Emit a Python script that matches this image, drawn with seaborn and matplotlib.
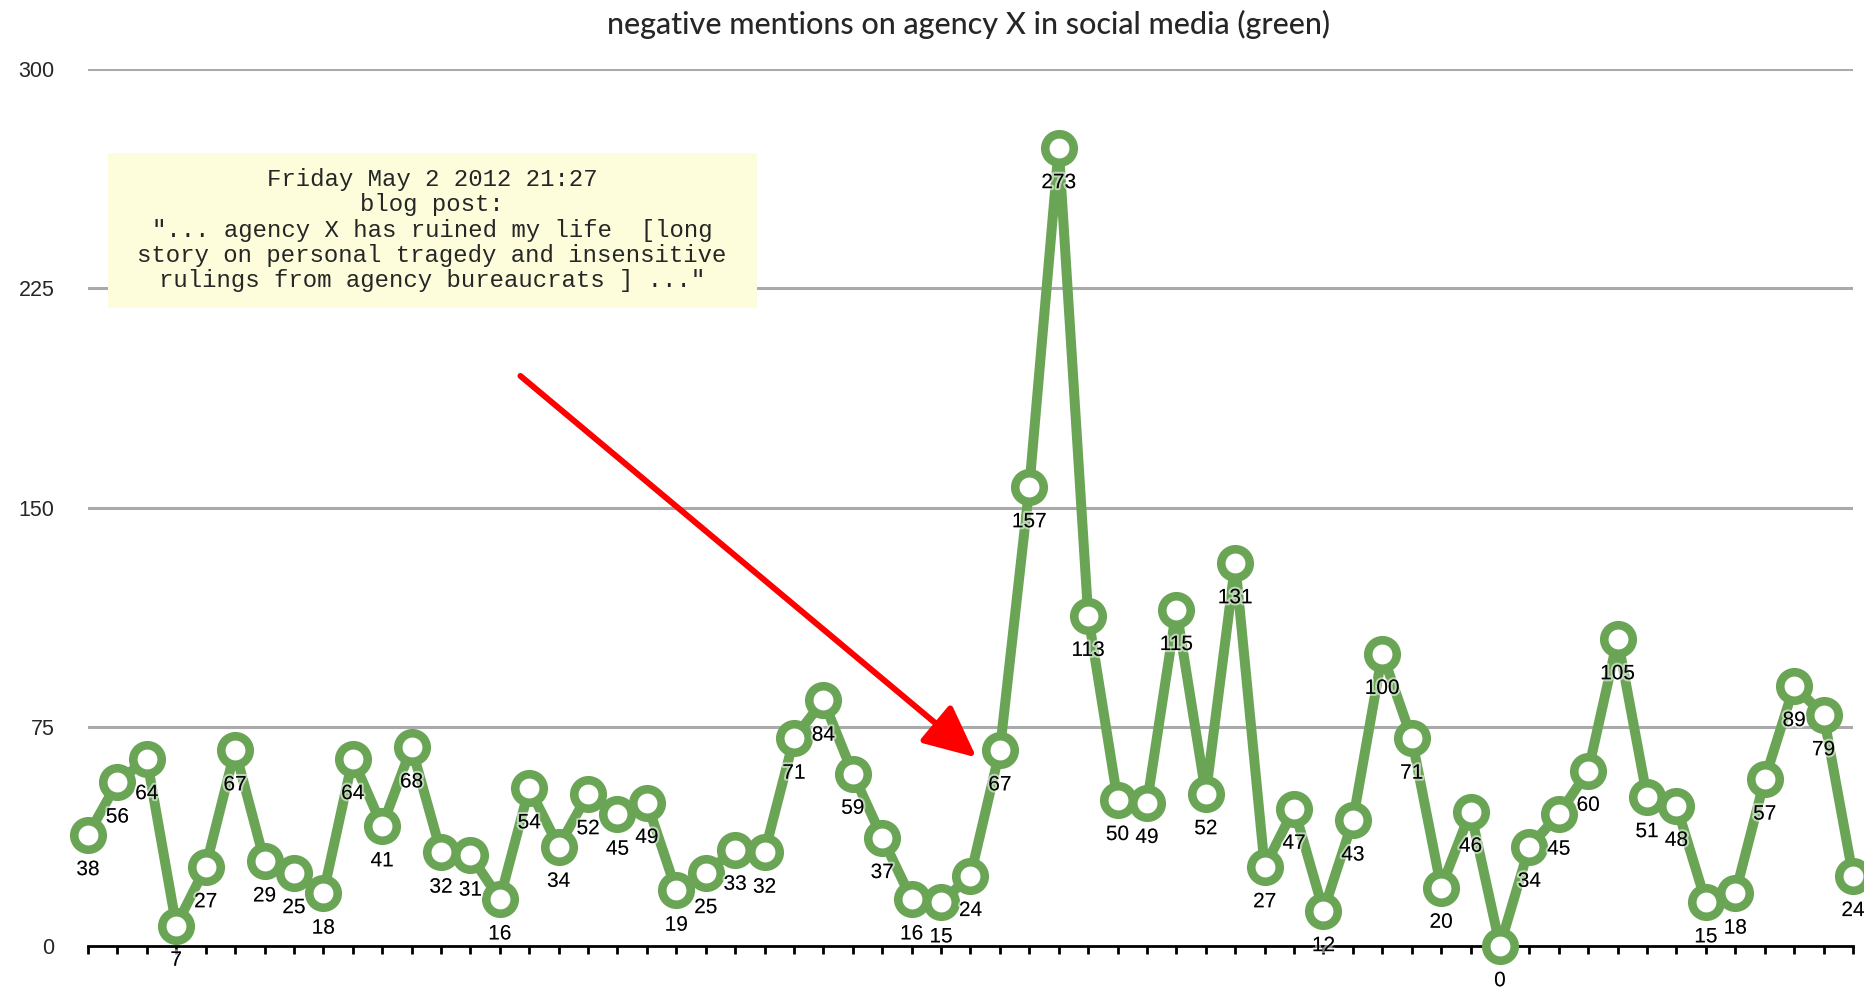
import matplotlib
matplotlib.use("Agg")
import matplotlib.pyplot as plt
import matplotlib.patheffects as pe
from matplotlib.patches import Rectangle
import seaborn as sns
import pandas as pd

values = [38, 56, 64, 7, 27, 67, 29, 25, 18, 64, 41, 68, 32, 31, 16, 54, 34, 52, 45, 49,
          19, 25, 33, 32, 71, 84, 59, 37, 16, 15, 24, 67, 157, 273, 113, 50, 49, 115, 52, 131,
          27, 47, 12, 43, 100, 71, 20, 46, 0, 34, 45, 60, 105, 51, 48, 15, 18, 57, 89, 79, 24]
positions = list(range(len(values)))
y_ticks = [0, 75, 150, 225, 300]
title = "negative mentions on agency X in social media (green)"
note = ('Friday May 2 2012 21:27\nblog post:\n"... agency X has ruined my life  [long\n'
        'story on personal tragedy and insensitive\nrulings from agency bureaucrats ] ..."')

df = pd.DataFrame({"t": positions, "mentions": values})

sns.set_style("white")
plt.rcParams['font.family'] = ['Liberation Sans', 'DejaVu Sans']

W, H = 1864, 991
fig = plt.figure(figsize=(W / 100, H / 100), dpi=100)
ax = fig.add_axes([88 / W, 1 - 946 / H, (1853 - 88) / W, (946 - 69) / H])

green = '#6aa556'
sns.lineplot(data=df, x="t", y="mentions", ax=ax, color=green, linewidth=7.2,
             marker='o', markersize=20.5, markerfacecolor='white',
             markeredgecolor=green, markeredgewidth=6.2, clip_on=False, zorder=3)

ax.set_xlim(0, len(values) - 1)
ax.set_ylim(0, 300)
ax.set_yticks(y_ticks)
ax.set_yticklabels([str(v) for v in y_ticks], fontsize=15.5)
ax.set_xticks(positions)
ax.set_xticklabels([])
ax.tick_params(axis='y', left=False, length=0, pad=24)
ax.tick_params(axis='x', bottom=True, direction='out', length=6, width=2, color='black')
for s in ['top', 'right', 'left']:
    ax.spines[s].set_visible(False)
ax.spines['bottom'].set_color('black')
ax.spines['bottom'].set_linewidth(2)
ax.spines['bottom'].set_zorder(2)
for v in y_ticks[1:]:
    ax.axhline(v, color='#aaaaaa', linewidth=2.2, zorder=1)
ax.set_xlabel("")
ax.set_ylabel("")

for x, v in zip(positions, values):
    ax.annotate(str(v), (x, v), xytext=(0, -25), textcoords='offset points',
                ha='center', va='center', fontsize=15, color='black', zorder=5,
                annotation_clip=False,
                path_effects=[pe.withStroke(linewidth=3, foreground=(1, 1, 1, 0.55))])

fig.text(0.5195, 1 - 24 / H, title, ha='center', va='center', fontsize=22,
         family=['Lato', 'DejaVu Sans'], fontweight='medium')

fig.patches.append(Rectangle((108 / W, 1 - 308 / H), 649 / W, 155 / H,
                             transform=fig.transFigure, facecolor='#fdfddc',
                             edgecolor='none', zorder=4))
fig.text(432 / W, 1 - 230 / H, note, ha='center', va='center', fontsize=17.3,
         family=['Liberation Mono', 'DejaVu Sans Mono'], linespacing=1.13, zorder=6)

ax.annotate("", xy=(30.2, 64.5), xytext=(14.7, 195),
            arrowprops=dict(arrowstyle='-|>,head_length=1.6,head_width=0.75',
                            color='#ff0000', lw=4.3, mutation_scale=20,
                            shrinkA=0, shrinkB=0), zorder=6)

fig.savefig("out.png", dpi=100, facecolor='white')
